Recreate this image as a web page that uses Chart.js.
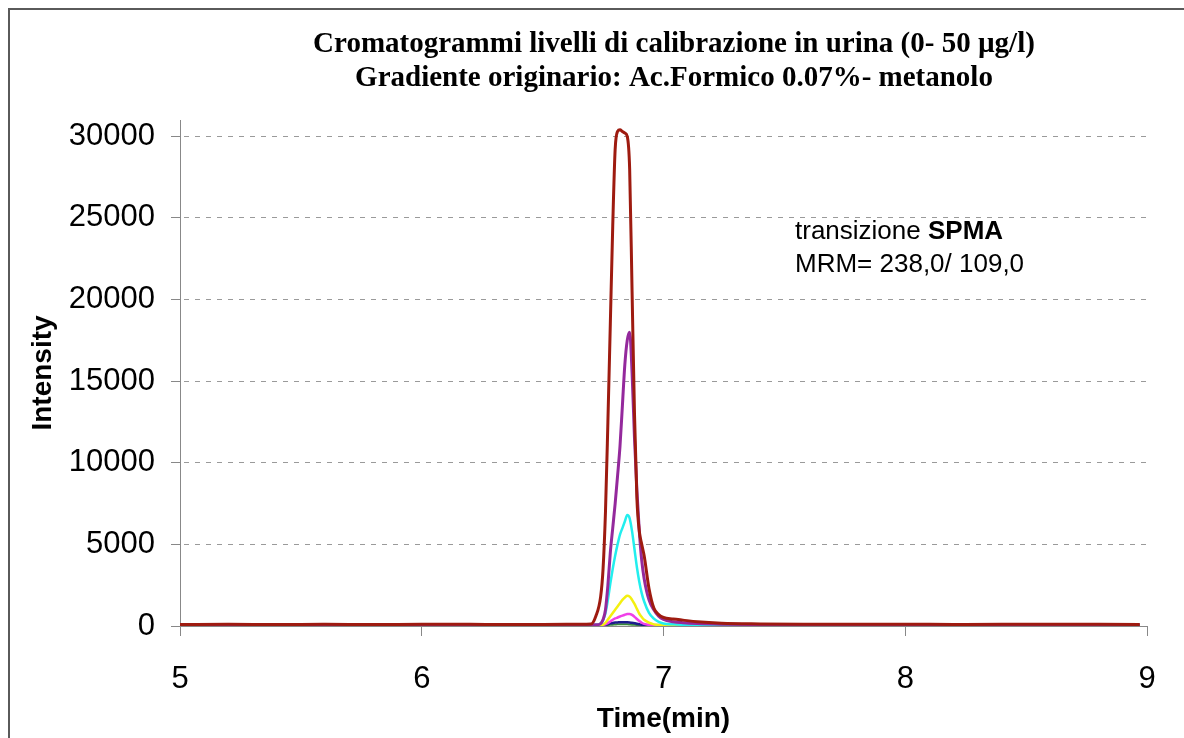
<!DOCTYPE html>
<html>
<head>
<meta charset="utf-8">
<script src="https://cdn.jsdelivr.net/npm/chart.js@4.4.1/dist/chart.umd.min.js"></script>
<style>
    html, body { margin: 0; padding: 0; background: #fff; }
    canvas { display: block; }
</style>
</head>
<body>
<canvas id="chromatogram" width="1184" height="738"></canvas>
<script>
// Retention times (min), shared by every calibration trace
const times = [5.0, 5.2, 5.4, 5.6, 5.8, 6.0, 6.2, 6.4, 6.6,
    6.70, 6.72, 6.74, 6.75, 6.76, 6.77, 6.78, 6.79, 6.80, 6.81, 6.82, 6.83, 6.84, 6.85, 6.86, 6.87, 6.88, 6.89, 6.90, 6.91, 6.92,
    6.94, 6.96, 6.98, 7.00, 7.04, 7.08, 7.14, 7.24,
    7.4, 7.6, 7.8, 8.0, 8.2, 8.4, 8.6, 8.8, 8.97];

// Intensity of each calibration level (highest first)
const traceDarkRed = [90, 100, 95, 100, 90, 105, 100, 95, 100,
    120, 600, 1800, 3500, 7000, 12500, 18500, 24500, 29200, 30300, 30400, 30300, 30200, 30000, 28000, 20500, 13000, 7800, 5800, 5000, 4300,
    2300, 1100, 700, 520, 430, 360, 260, 170,
    130, 110, 100, 105, 95, 100, 110, 100, 95];
const tracePurple = [60, 70, 80, 60, 70, 60, 80, 70, 60,
    60, 70, 150, 400, 1000, 2500, 4500, 6000, 7500, 9200, 11000, 13500, 16000, 17500, 18000, 15500, 11500, 8300, 5800, 4000, 2900,
    1600, 1000, 600, 400, 260, 200, 150, 110,
    90, 80, 70, 80, 60, 70, 80, 70, 60];
const traceCyan = [70, 60, 80, 70, 60, 70, 60, 80, 70,
    60, 70, 150, 350, 800, 1600, 2600, 3500, 4300, 5000, 5600, 6000, 6400, 6800, 6600, 5800, 4700, 3600, 2700, 2000, 1500,
    800, 450, 250, 150, 100, 80, 70, 60,
    70, 60, 70, 60, 70, 60, 70, 60, 70];
const traceYellow = [50, 60, 70, 50, 60, 50, 70, 60, 50,
    50, 50, 60, 80, 200, 400, 600, 800, 1000, 1200, 1400, 1600, 1750, 1850, 1800, 1600, 1350, 1050, 750, 550, 380,
    200, 100, 60, 50, 50, 60, 50, 60,
    50, 60, 50, 60, 50, 60, 50, 60, 50];
const traceMagenta = [80, 60, 70, 80, 60, 70, 80, 60, 70,
    60, 60, 60, 70, 100, 180, 280, 380, 460, 520, 580, 640, 690, 730, 740, 680, 560, 430, 300, 200, 130,
    70, 60, 60, 50, 60, 70, 60, 50,
    60, 70, 60, 50, 60, 70, 60, 50, 60];
const traceNavy = [40, 50, 40, 50, 40, 50, 40, 50, 40,
    40, 40, 40, 50, 80, 120, 160, 190, 210, 220, 230, 230, 230, 230, 220, 200, 170, 140, 110, 80, 60,
    50, 40, 40, 50, 40, 40, 50, 40,
    40, 50, 40, 40, 50, 40, 40, 50, 40];
const traceGreen = [30, 40, 30, 40, 30, 40, 30, 40, 30,
    30, 30, 30, 40, 50, 60, 70, 80, 90, 100, 100, 100, 100, 100, 90, 80, 70, 60, 50, 40, 40,
    40, 30, 40, 30, 40, 30, 40, 30,
    40, 30, 40, 30, 40, 30, 40, 30, 40];

// Axis ticks
const timeTicks = [5, 6, 7, 8, 9];
const intensityTicks = [0, 5000, 10000, 15000, 20000, 25000, 30000];
const intensityMax = 31000;

const titleLines = [
    'Cromatogrammi livelli di calibrazione in urina (0- 50 \u00b5g/l)',
    'Gradiente originario: Ac.Formico 0.07%- metanolo'
];

const SANS = "'Liberation Sans', Arial, sans-serif";
const SERIF = "'Liberation Serif', 'Times New Roman', serif";

function toPoints(values) {
    return times.map((t, i) => ({ x: t, y: values[i] }));
}

function trace(values, color, width) {
    return {
        data: toPoints(values),
        borderColor: color,
        borderWidth: width,
        pointRadius: 0,
        fill: false,
        cubicInterpolationMode: 'monotone'
    };
}

// Frame, title and the transition note
const chartText = {
    id: 'chartText',
    beforeDraw(chart) {
        const ctx = chart.ctx;
        ctx.save();
        ctx.strokeStyle = '#5a5a5a';
        ctx.lineWidth = 2;
        ctx.beginPath();
        ctx.moveTo(9, chart.height);
        ctx.lineTo(9, 9);
        ctx.lineTo(chart.width, 9);
        ctx.stroke();
        ctx.restore();
    },
    afterDraw(chart) {
        const ctx = chart.ctx;
        ctx.save();
        ctx.fillStyle = '#000';
        ctx.textAlign = 'center';
        ctx.textBaseline = 'alphabetic';
        ctx.font = 'bold 29px ' + SERIF;
        ctx.fillText(titleLines[0], 674, 52);
        ctx.fillText(titleLines[1], 674, 86);

        ctx.textAlign = 'left';
        ctx.font = '26px ' + SANS;
        const lead = 'transizione ';
        ctx.fillText(lead, 795, 239);
        const leadW = ctx.measureText(lead).width;
        ctx.font = 'bold 26px ' + SANS;
        ctx.fillText('SPMA', 795 + leadW, 239);
        ctx.font = '26px ' + SANS;
        ctx.fillText('MRM= 238,0/ 109,0', 795, 272);
        ctx.restore();
    }
};

new Chart(document.getElementById('chromatogram'), {
    type: 'line',
    data: {
        datasets: [
            trace(traceDarkRed, '#9e1b10', 3),
            trace(tracePurple, '#94299c', 3),
            trace(traceCyan, '#22eeee', 2.5),
            trace(traceYellow, '#f4f010', 2.5),
            trace(traceMagenta, '#f040e8', 2.5),
            trace(traceNavy, '#1c1c8c', 2.5),
            trace(traceGreen, '#3a8a3a', 2)
        ]
    },
    options: {
        responsive: false,
        animation: false,
        layout: { padding: { top: 120, right: 37, left: 0, bottom: 0 } },
        plugins: {
            legend: { display: false },
            tooltip: { enabled: false }
        },
        scales: {
            x: {
                type: 'linear',
                min: timeTicks[0],
                max: timeTicks[timeTicks.length - 1],
                afterFit: (scale) => { scale.height = 112; },
                afterBuildTicks: (scale) => {
                    scale.ticks = timeTicks.map(v => ({ value: v }));
                },
                ticks: {
                    color: '#000',
                    padding: 25,
                    font: { family: SANS, size: 31 },
                    callback: (v) => String(v)
                },
                grid: {
                    drawOnChartArea: false,
                    tickLength: 10,
                    color: '#888'
                },
                border: { color: '#888', width: 1 },
                title: {
                    display: true,
                    text: 'Time(min)',
                    color: '#000',
                    padding: { top: 0, bottom: 2 },
                    font: { family: SANS, size: 28, weight: 'bold' }
                }
            },
            y: {
                min: 0,
                max: intensityMax,
                afterFit: (scale) => { scale.width = 180; },
                afterBuildTicks: (scale) => {
                    scale.ticks = intensityTicks.map(v => ({ value: v }));
                },
                ticks: {
                    color: '#000',
                    padding: 16,
                    font: { family: SANS, size: 31 },
                    callback: (v) => String(v)
                },
                grid: {
                    tickLength: 9,
                    tickColor: '#888',
                    color: (c) => (c.tick && c.tick.value === 0 ? 'rgba(0,0,0,0)' : '#9a9a9a'),
                    lineWidth: 1
                },
                border: { color: '#888', width: 1, dash: [5, 6], dashOffset: -14 },
                title: {
                    display: true,
                    text: 'Intensity',
                    color: '#000',
                    padding: { top: 26, bottom: 0 },
                    font: { family: SANS, size: 28, weight: 'bold' }
                }
            }
        }
    },
    plugins: [chartText]
});
</script>
</body>
</html>
